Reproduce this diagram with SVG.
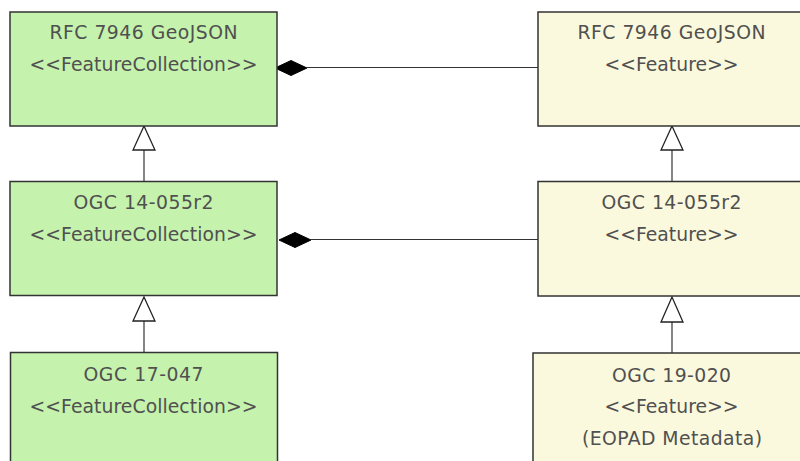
<svg xmlns="http://www.w3.org/2000/svg" width="800" height="461" viewBox="0 0 800 461">
<style>
.box{stroke:#333;stroke-width:1.5}
.g{fill:#c5f2ad}
.y{fill:#fbf9dd}
text{font-family:"DejaVu Sans",Verdana,sans-serif;font-size:18.8px;fill:#505050;text-anchor:middle}
.ln{stroke:#333;stroke-width:1.2;fill:none}
.tri{fill:#fff;stroke:#222;stroke-width:1.3}
.dia{fill:#000;stroke:#000;stroke-width:1}
</style>
<rect width="800" height="461" fill="#fff"/>
<g id="connectors">
<line class="ln" x1="144" y1="150" x2="144" y2="181"/>
<polygon class="tri" points="144,126 133,150 155,150"/>
<line class="ln" x1="144" y1="321" x2="144" y2="352.5"/>
<polygon class="tri" points="144,297 133,321 155,321"/>
<line class="ln" x1="672" y1="150" x2="672" y2="181"/>
<polygon class="tri" points="672,126 661,150 683,150"/>
<line class="ln" x1="672" y1="322" x2="672" y2="353"/>
<polygon class="tri" points="672,297 661,322 683,322"/>
<line class="ln" x1="307" y1="67.5" x2="538" y2="67.5"/>
<polygon class="dia" points="275,68 291,60.5 307,68 291,75.5"/>
<line class="ln" x1="311" y1="239.5" x2="538" y2="239.5"/>
<polygon class="dia" points="279,240 295,232.5 311,240 295,247.5"/>
</g>
<g id="fc-rfc">
<rect class="box g" x="10" y="12" width="267" height="114"/>
<text x="143.5" y="39" textLength="188" lengthAdjust="spacing">RFC 7946 GeoJSON</text>
<text x="143.5" y="71" textLength="228" lengthAdjust="spacing">&lt;&lt;FeatureCollection&gt;&gt;</text>
</g>
<g id="f-rfc">
<rect class="box y" x="538" y="12" width="267" height="114"/>
<text x="671.5" y="39" textLength="188" lengthAdjust="spacing">RFC 7946 GeoJSON</text>
<text x="671.5" y="71" textLength="134" lengthAdjust="spacing">&lt;&lt;Feature&gt;&gt;</text>
</g>
<g id="fc-ogc14">
<rect class="box g" x="10" y="181.5" width="267" height="114"/>
<text x="143.5" y="209" textLength="140" lengthAdjust="spacing">OGC 14-055r2</text>
<text x="143.5" y="241" textLength="228" lengthAdjust="spacing">&lt;&lt;FeatureCollection&gt;&gt;</text>
</g>
<g id="f-ogc14">
<rect class="box y" x="538" y="181.5" width="267" height="114.5"/>
<text x="671.5" y="209" textLength="140" lengthAdjust="spacing">OGC 14-055r2</text>
<text x="671.5" y="241" textLength="134" lengthAdjust="spacing">&lt;&lt;Feature&gt;&gt;</text>
</g>
<g id="fc-ogc17">
<rect class="box g" x="10.5" y="352.5" width="267" height="130"/>
<text x="143.5" y="381" textLength="120" lengthAdjust="spacing">OGC 17-047</text>
<text x="143.5" y="412.5" textLength="228" lengthAdjust="spacing">&lt;&lt;FeatureCollection&gt;&gt;</text>
</g>
<g id="f-ogc19">
<rect class="box y" x="533" y="353" width="277" height="130"/>
<text x="671.5" y="381.5" textLength="119" lengthAdjust="spacing">OGC 19-020</text>
<text x="671.5" y="413" textLength="134" lengthAdjust="spacing">&lt;&lt;Feature&gt;&gt;</text>
<text x="672" y="445" textLength="180" lengthAdjust="spacing">(EOPAD Metadata)</text>
</g>
</svg>
